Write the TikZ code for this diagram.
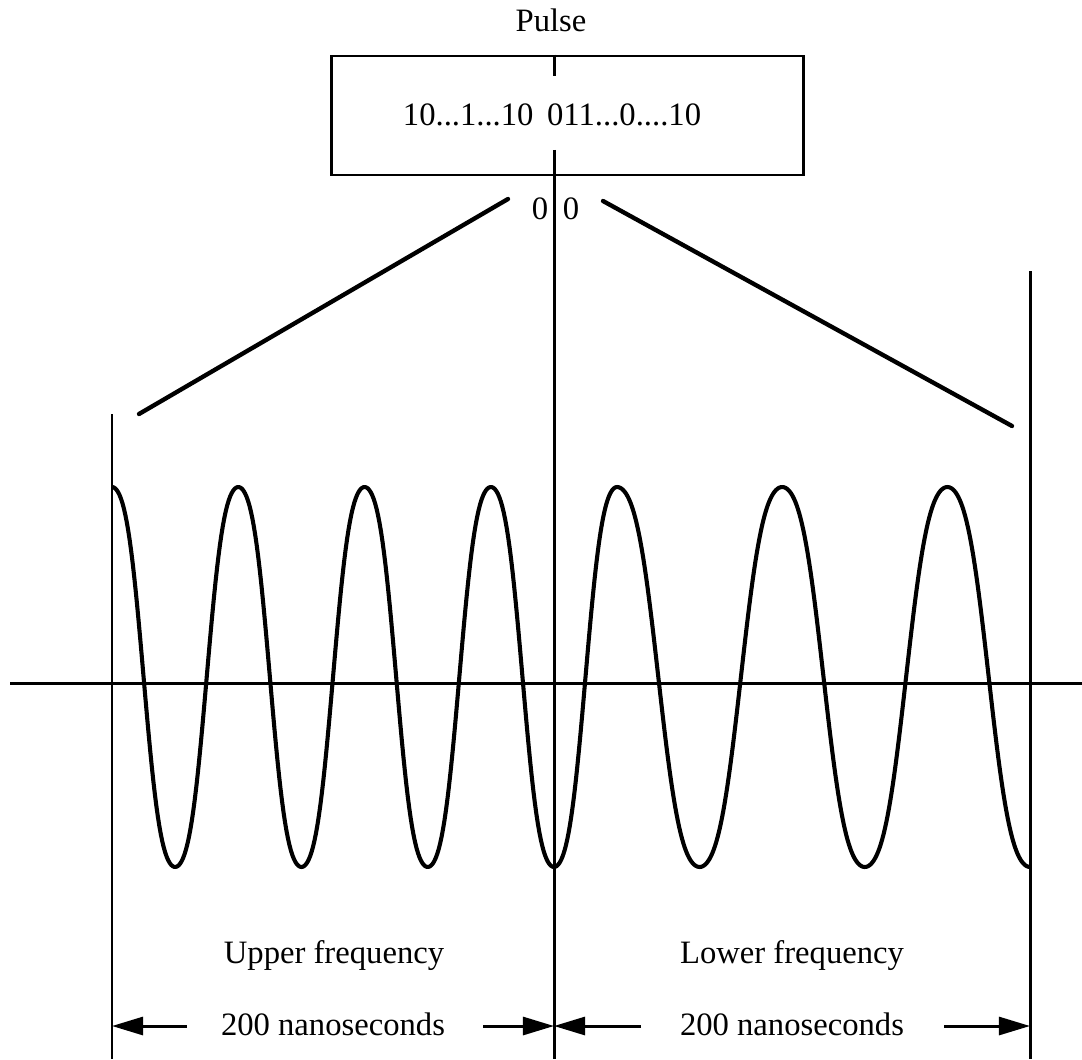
\documentclass[tikz,border=0pt]{standalone}
\usepackage{fontspec}
\setmainfont{Liberation Serif}
\usetikzlibrary{arrows.meta,positioning,calc}
\tikzset{
  pulsebox/.style={draw, line width=1.1pt, inner sep=0pt,
    minimum width=472*0.3675pt, minimum height=119*0.3675pt},
  lbl/.style={font=\fontsize{12}{14}\selectfont, inner sep=0pt, anchor=base},
  guide/.style={line width=1.1pt},
  fan/.style={line width=1.6pt, line cap=round},
  wave/.style={line width=1.5pt, line join=round},
  span/.style={-{Triangle[length=11.4pt, width=6.6pt]}, line width=1.1pt},
  declare function={lobe(\t)=cos(\t)*(1+0.22*sin(\t)*sin(\t));},
}

\begin{document}
\begin{tikzpicture}[x=0.3675pt, y=-0.3675pt]
    \useasboundingbox (0,0) rectangle (1082,1059);
    % pulse word
    \node[lbl] (pulse) at (551,32) {Pulse};
    \node[pulsebox] (box) at (567,115.5) {};
    \node[lbl] (bits) at (552,125) {10...1...10 \,011...0....10};
    \node[lbl] (zeroleft) at (540,220) {0};
    \node[lbl] (zeroright) at (571,220) {0};
    % guide lines
    \coordinate (midtop) at (554,150);
    \coordinate (midbot) at (554,1059);
    \coordinate (lefttop) at (112,414);
    \coordinate (leftbot) at (112,1059);
    \coordinate (righttop) at (1030,271);
    \coordinate (rightbot) at (1030,1059);
    \coordinate (axisleft) at (10,683);
    \coordinate (axisright) at (1082,683);
    \draw[guide] (box.north -| midtop) -- ++(0,21);
    \draw[guide] (midtop) -- (midbot);
    \draw[guide] (lefttop) -- (leftbot);
    \draw[guide] (righttop) -- (rightbot);
    \draw[guide] (axisleft) -- (axisright);
    % fan from the pulse
    \coordinate (fanlefttop) at (508,199);
    \coordinate (fanleftbot) at (139,414);
    \coordinate (fanrighttop) at (603,201);
    \coordinate (fanrightbot) at (1012,426);
    \draw[fan] (fanlefttop) -- (fanleftbot);
    \draw[fan] (fanrighttop) -- (fanrightbot);
    % carrier
    \draw[wave] plot[domain=112:554, samples=300] (\x,{677-190*lobe(((\x-112)/126.3)*360)})
      -- plot[domain=554:617, samples=60] (\x,{677+190*lobe(((\x-554)/63)*180)})
      -- plot[domain=617:1030, samples=300] (\x,{677-190*lobe(((\x-617)/82.6)*180)});
    % spans
    \node[lbl] (upper) at (334,963) {Upper frequency};
    \node[lbl] (updur) at (333,1035) {200 nanoseconds};
    \node[lbl] (lower) at (792,963) {Lower frequency};
    \node[lbl] (lowdur) at (792,1035) {200 nanoseconds};
    \coordinate (upl) at (187,1026);
    \coordinate (upr) at (483,1026);
    \coordinate (lowl) at (641,1026);
    \coordinate (lowr) at (944,1026);
    \draw[span] (upl) -- (upl -| leftbot);
    \draw[span] (upr) -- (upr -| midbot);
    \draw[span] (lowl) -- (lowl -| midbot);
    \draw[span] (lowr) -- (lowr -| rightbot);
  \end{tikzpicture}
\end{document}
